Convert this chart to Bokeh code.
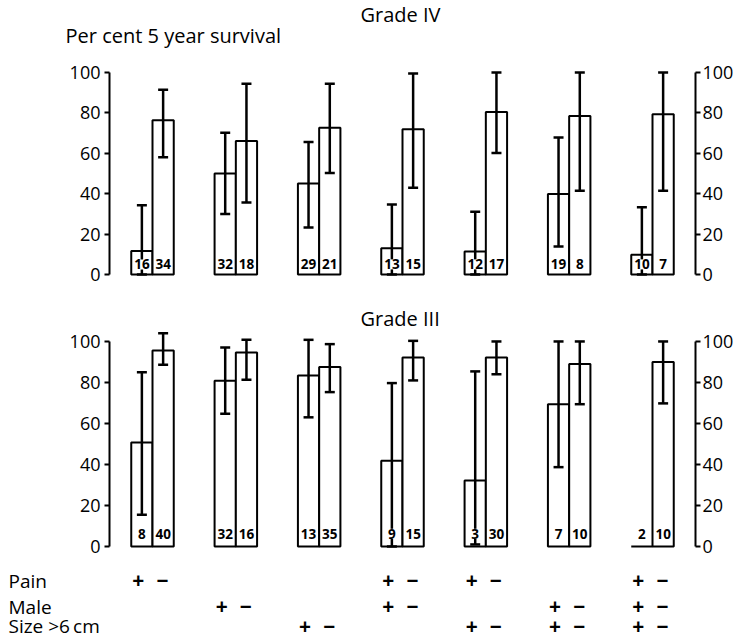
from bokeh.plotting import figure
from bokeh.models import LinearAxis, FixedTicker, Range1d
from bokeh.core.properties import value
from bokeh.embed import file_html
from bokeh.resources import INLINE

NaN = float("nan")
FONT = "Open Sans"

groups = [1, 2, 3, 4, 5, 6, 7]

# Grade IV  (per cent 5 year survival, "+" bar and "-" bar of each group)
iv_pos = [11.6, 50.0, 45.0, 13.0, 11.4, 39.8, 9.8]
iv_pos_lo = [0.0, 29.9, 23.2, 0.0, 0.0, 13.8, 0.0]
iv_pos_hi = [34.3, 70.2, 65.6, 34.6, 31.0, 67.8, 33.3]
iv_pos_n = ["16", "32", "29", "13", "12", "19", "10"]
iv_neg = [76.4, 66.1, 72.7, 71.9, 80.5, 78.4, 79.3]
iv_neg_lo = [58.1, 35.6, 50.3, 43.0, 60.2, 41.5, 41.5]
iv_neg_hi = [91.4, 94.4, 94.4, 99.5, 100.0, 100.0, 100.0]
iv_neg_n = ["34", "18", "21", "15", "17", "8", "7"]

# Grade III
iii_pos = [50.7, 80.8, 83.4, 41.8, 32.2, 69.4, 0.0]
iii_pos_lo = [15.5, 64.7, 63.0, 0.0, 1.0, 38.7, NaN]
iii_pos_hi = [85.0, 97.0, 100.8, 79.7, 85.4, 100.0, NaN]
iii_pos_n = ["8", "32", "13", "9", "3", "7", "2"]
iii_neg = [95.6, 94.6, 87.5, 92.2, 92.2, 89.0, 90.0]
iii_neg_lo = [88.6, 81.3, 75.3, 81.0, 84.0, 69.4, 69.8]
iii_neg_hi = [104.0, 100.8, 98.7, 100.3, 100.0, 100.0, 100.0]
iii_neg_n = ["40", "16", "35", "15", "30", "10", "10"]

# factor table below the chart
factor_names = ["Pain", "Male", "Size >6\u2009cm"]
pain_flags = [1, 0, 0, 1, 1, 0, 1]
male_flags = [0, 1, 0, 1, 0, 1, 1]
size_flags = [0, 0, 1, 0, 1, 1, 1]

ticks = [0, 20, 40, 60, 80, 100]

W, H = 737, 640
BW = 0.255            # bar width (group units)
X_RANGE = (-0.824, 8.02)
AX_LEFT, AX_RIGHT = 0.484, 7.516
X_PAGE_LEFT = -0.728

p = figure(width=W, height=H, x_range=Range1d(*X_RANGE), y_range=Range1d(-181.2, 135.64),
           toolbar_location=None, output_backend="svg",
           x_axis_location=None, y_axis_location=None,
           min_border=0, min_border_left=0, min_border_right=0,
           min_border_top=0, min_border_bottom=0,
           outline_line_color=None, background_fill_color="white", border_fill_color="white")
p.grid.visible = False
p.extra_y_ranges = {"iii": Range1d(-45.85, 266.3)}


def style_axis(ax, standoff):
    ax.ticker = FixedTicker(ticks=ticks)
    ax.bounds = (0, 100)
    ax.axis_line_width = 2
    ax.axis_line_color = "black"
    ax.major_tick_line_width = 2
    ax.major_tick_line_color = "black"
    ax.major_tick_out = 5
    ax.major_tick_in = 0
    ax.minor_tick_out = 0
    ax.minor_tick_in = 0
    ax.major_label_text_font = FONT
    ax.major_label_text_font_size = "18px"
    ax.major_label_text_color = "black"
    ax.major_label_standoff = standoff


for rname in ["default", "iii"]:
    for loc, side, so in [(AX_LEFT, "left", 4), (AX_RIGHT, "right", 2)]:
        ax = LinearAxis(y_range_name=rname, fixed_location=loc)
        style_axis(ax, so)
        p.add_layout(ax, side)


def panel(rname, pos, pos_lo, pos_hi, pos_n, neg, neg_lo, neg_hi, neg_n, n_y):
    x1 = [g - BW / 2 for g in groups]
    x2 = [g + BW / 2 for g in groups]
    xs = x1 + x2
    p.vbar(x=xs, top=pos + neg, bottom=0, width=BW, fill_color="white",
           line_color="black", line_width=2, y_range_name=rname)
    lo = pos_lo + neg_lo
    hi = pos_hi + neg_hi
    p.segment(x0=xs, y0=lo, x1=xs, y1=hi, line_color="black", line_width=2.5,
              y_range_name=rname)
    cl = [x - 0.06 for x in xs]
    cr = [x + 0.06 for x in xs]
    p.segment(x0=cl, y0=hi, x1=cr, y1=hi, line_color="black", line_width=2.5,
              y_range_name=rname)
    p.segment(x0=cl, y0=lo, x1=cr, y1=lo, line_color="black", line_width=2.5,
              y_range_name=rname)
    p.text(x=xs, y=[n_y] * len(xs), text=pos_n + neg_n, text_align="center",
           text_baseline="middle", text_font=value(FONT), text_font_size="13.5px",
           text_font_style="bold", text_color="black",
           background_fill_color="white", padding=0, y_range_name=rname)


def txt(x, y, text, size="20px", rname="default"):
    p.text(x=[x], y=[y], text=[text], text_align="left", text_baseline="middle",
           text_font=value(FONT), text_font_size=size, text_color="black",
           y_range_name=rname)


panel("default", iv_pos, iv_pos_lo, iv_pos_hi, iv_pos_n,
      iv_neg, iv_neg_lo, iv_neg_hi, iv_neg_n, 5.0)
panel("iii", iii_pos, iii_pos_lo, iii_pos_hi, iii_pos_n,
      iii_neg, iii_neg_lo, iii_neg_hi, iii_neg_n, 6.2)

txt(3.496, 128.7, "Grade IV")
txt(-0.044, 118.3, "Per cent 5 year survival")
txt(3.496, 111.2, "Grade III", rname="iii")

row_y = [-16.6, -29.3, -38.8]
for name, yy in zip(factor_names, row_y):
    txt(X_PAGE_LEFT, yy, name, "19px", "iii")

sx, sy, st = [], [], []
for flags, yy in zip([pain_flags, male_flags, size_flags], row_y):
    for g, f in zip(groups, flags):
        if f:
            sx += [g - 0.17, g + 0.12]
            sy += [yy, yy]
            st += ["+", "\u2212"]
p.text(x=sx, y=sy, text=st, text_align="center", text_baseline="middle",
       text_font=value(FONT), text_font_size="21px", text_font_style="bold",
       text_color="black", y_range_name="iii")

open("out.html", "w").write(file_html(p, INLINE))
